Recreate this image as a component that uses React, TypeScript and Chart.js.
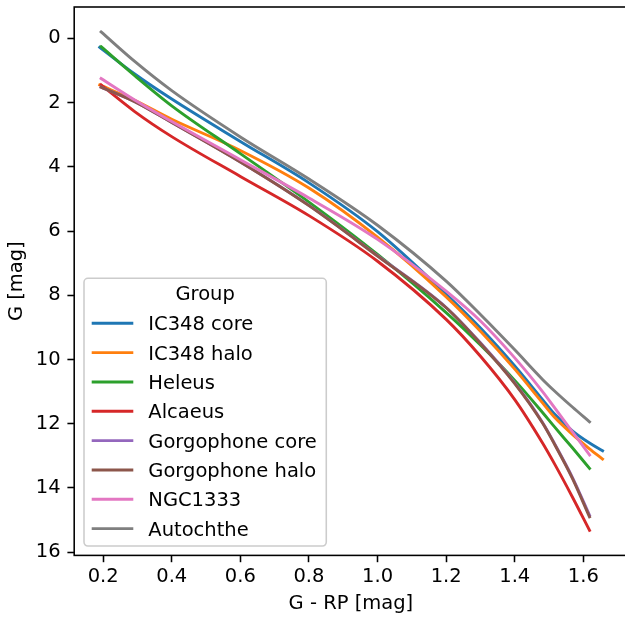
import React, { useEffect, useRef } from 'react';
import { Chart, registerables } from 'chart.js';

Chart.register(...registerables);

const groupNames = ['IC348 core', 'IC348 halo', 'Heleus', 'Alcaeus', 'Gorgophone core', 'Gorgophone halo', 'NGC1333', 'Autochthe'];
const groupColors = ['#1f77b4', '#ff7f0e', '#2ca02c', '#d62728', '#9467bd', '#8c564b', '#e377c2', '#7f7f7f'];

// G - RP colour sample points
const colourGrid = [0.194, 0.292, 0.4, 0.6, 0.8, 1.0, 1.2, 1.3, 1.4, 1.481, 1.516, 1.568, 1.618];
const colourGridLong = [0.19, 0.292, 0.4, 0.6, 0.8, 1.0, 1.2, 1.3, 1.4, 1.481, 1.516, 1.568, 1.618, 1.656];

// G magnitudes per group
const ic348Core = [0.28, 1.11, 1.89, 3.21, 4.5, 6.02, 7.97, 9.02, 10.2, 11.25, 11.7, 12.22, 12.6, 12.84];
const ic348Halo = [1.45, 1.93, 2.52, 3.49, 4.66, 6.19, 8.05, 9.12, 10.3, 11.35, 11.8, 12.33, 12.78, 13.1];
const heleus = [0.26, 1.16, 2.1, 3.59, 5.1, 6.73, 8.54, 9.55, 10.65, 11.65, 12.1, 12.75, 13.39];
const alcaeus = [1.45, 2.28, 3.06, 4.3, 5.52, 6.94, 8.75, 9.9, 11.25, 12.6, 13.25, 14.28, 15.32];
const gorgophoneCore = [1.52, 1.97, 2.62, 3.85, 5.2, 6.77, 8.38, 9.48, 10.73, 11.96, 12.62, 13.67, 14.85];
const gorgophoneHalo = [1.52, 1.97, 2.62, 3.85, 5.21, 6.78, 8.39, 9.5, 10.75, 11.98, 12.64, 13.7, 14.9];
const ngc1333 = [1.25, 1.92, 2.59, 3.78, 4.97, 6.26, 7.87, 8.8, 9.95, 11.0, 11.5, 12.25, 12.97];
const autochthe = [-0.2, 0.72, 1.63, 3.07, 4.38, 5.82, 7.56, 8.6, 9.7, 10.62, 10.98, 11.48, 11.94];

const seriesValues = [ic348Core, ic348Halo, heleus, alcaeus, gorgophoneCore, gorgophoneHalo, ngc1333, autochthe];
const seriesGrids = [colourGridLong, colourGridLong, colourGrid, colourGrid, colourGrid, colourGrid, colourGrid, colourGrid];

const xTicks = [0.2, 0.4, 0.6, 0.8, 1.0, 1.2, 1.4, 1.6];
const yTicks = [0, 2, 4, 6, 8, 10, 12, 14, 16];

const FONT_FAMILY = "'DejaVu Sans', 'Liberation Sans', sans-serif";
const FONT_SIZE = 19.5;
const SPINE_W = 1.56;
const TICK_LEN = 6.8;

const frameLegendPlugin = {
  id: 'frameLegend',
  afterDraw(chart: any) {
    const { ctx, chartArea: a } = chart;
    ctx.save();
    // full frame (spines)
    ctx.strokeStyle = '#000';
    ctx.lineWidth = SPINE_W;
    ctx.strokeRect(a.left, a.top, a.right - a.left, a.bottom - a.top);

    // legend
    ctx.font = `${FONT_SIZE}px ${FONT_FAMILY}`;
    let maxW = 0;
    groupNames.forEach((n) => { maxW = Math.max(maxW, ctx.measureText(n).width); });
    const boxLeft = a.left + 9.8;
    const boxBottom = a.bottom - 9.4;
    const boxTop = boxBottom - 267.7;
    const textX = boxLeft + 64.3;
    const boxRight = textX + maxW + 9.5;
    const r = 3.9;
    ctx.beginPath();
    ctx.moveTo(boxLeft + r, boxTop);
    ctx.lineTo(boxRight - r, boxTop);
    ctx.arcTo(boxRight, boxTop, boxRight, boxTop + r, r);
    ctx.lineTo(boxRight, boxBottom - r);
    ctx.arcTo(boxRight, boxBottom, boxRight - r, boxBottom, r);
    ctx.lineTo(boxLeft + r, boxBottom);
    ctx.arcTo(boxLeft, boxBottom, boxLeft, boxBottom - r, r);
    ctx.lineTo(boxLeft, boxTop + r);
    ctx.arcTo(boxLeft, boxTop, boxLeft + r, boxTop, r);
    ctx.closePath();
    ctx.fillStyle = 'rgba(255,255,255,0.8)';
    ctx.fill();
    ctx.strokeStyle = '#cccccc';
    ctx.lineWidth = SPINE_W;
    ctx.stroke();

    ctx.fillStyle = '#000';
    ctx.textBaseline = 'alphabetic';
    ctx.textAlign = 'center';
    ctx.fillText('Group', (boxLeft + boxRight) / 2, boxTop + 21.8);
    ctx.textAlign = 'left';
    groupNames.forEach((name, i) => {
      const cy = boxTop + 45 + i * 29.33;
      ctx.strokeStyle = groupColors[i];
      ctx.lineWidth = 2.9;
      ctx.lineCap = 'butt';
      ctx.beginPath();
      ctx.moveTo(boxLeft + 7.7, cy);
      ctx.lineTo(boxLeft + 49.3, cy);
      ctx.stroke();
      ctx.fillText(name, textX, cy + 7);
    });
    ctx.restore();
  },
};

export default function App() {
  const canvasRef = useRef<HTMLCanvasElement | null>(null);

  useEffect(() => {
    document.body.style.margin = '0';
    const canvas = canvasRef.current;
    if (!canvas) return;
    const font = { family: FONT_FAMILY, size: FONT_SIZE };
    const datasets = groupNames.map((name, i) => ({
      label: name,
      data: seriesValues[i].map((y, j) => ({ x: seriesGrids[i][j], y })),
      borderColor: groupColors[i],
      backgroundColor: groupColors[i],
      borderWidth: 2.9,
      borderCapStyle: 'square' as const,
      pointRadius: 0,
      showLine: true,
      fill: false,
      cubicInterpolationMode: 'monotone' as const,
      order: -i,
    }));
    const chart = new Chart(canvas, {
      type: 'scatter',
      data: { datasets },
      options: {
        responsive: false,
        animation: false,
        devicePixelRatio: 1,
        layout: { padding: { top: 7, right: 2.4, left: 0, bottom: 0 } },
        plugins: { legend: { display: false }, tooltip: { enabled: false } },
        scales: {
          x: {
            type: 'linear',
            position: 'bottom',
            min: 0.1156,
            max: 1.729,
            afterBuildTicks: (s: any) => { s.ticks = xTicks.map((v) => ({ value: v })); },
            afterFit: (s: any) => { s.height = 65.6; s.paddingLeft = 0; s.paddingRight = 0; },
            ticks: {
              callback: (v: any) => Number(v).toFixed(1),
              font,
              color: '#000',
              padding: 3,
              maxRotation: 0,
              autoSkip: false,
            },
            grid: { drawOnChartArea: false, drawTicks: true, tickLength: TICK_LEN, tickWidth: SPINE_W, tickColor: '#000' },
            border: { display: false },
            title: { display: true, text: 'G - RP [mag]', font, color: '#000', padding: { top: 0, bottom: 5.2 } },
          },
          y: {
            type: 'linear',
            position: 'left',
            reverse: true,
            min: -0.976,
            max: 16.1,
            afterBuildTicks: (s: any) => { s.ticks = yTicks.map((v) => ({ value: v })); },
            afterFit: (s: any) => { s.width = 74.2; s.paddingTop = 0; s.paddingBottom = 0; },
            ticks: {
              callback: (v: any) => String(v),
              font,
              color: '#000',
              padding: 6.8,
              autoSkip: false,
            },
            grid: { drawOnChartArea: false, drawTicks: true, tickLength: TICK_LEN, tickWidth: SPINE_W, tickColor: '#000' },
            border: { display: false },
            title: { display: true, text: 'G [mag]', font, color: '#000', padding: { top: 4.8, bottom: 0 } },
          },
        },
      },
      plugins: [frameLegendPlugin],
    });
    return () => chart.destroy();
  }, []);

  return (
    <div style={{ width: 625, height: 621, overflow: 'hidden', background: '#fff' }}>
      <canvas ref={canvasRef} width={630} height={621} style={{ display: 'block', width: 630, height: 621 }} />
    </div>
  );
}
